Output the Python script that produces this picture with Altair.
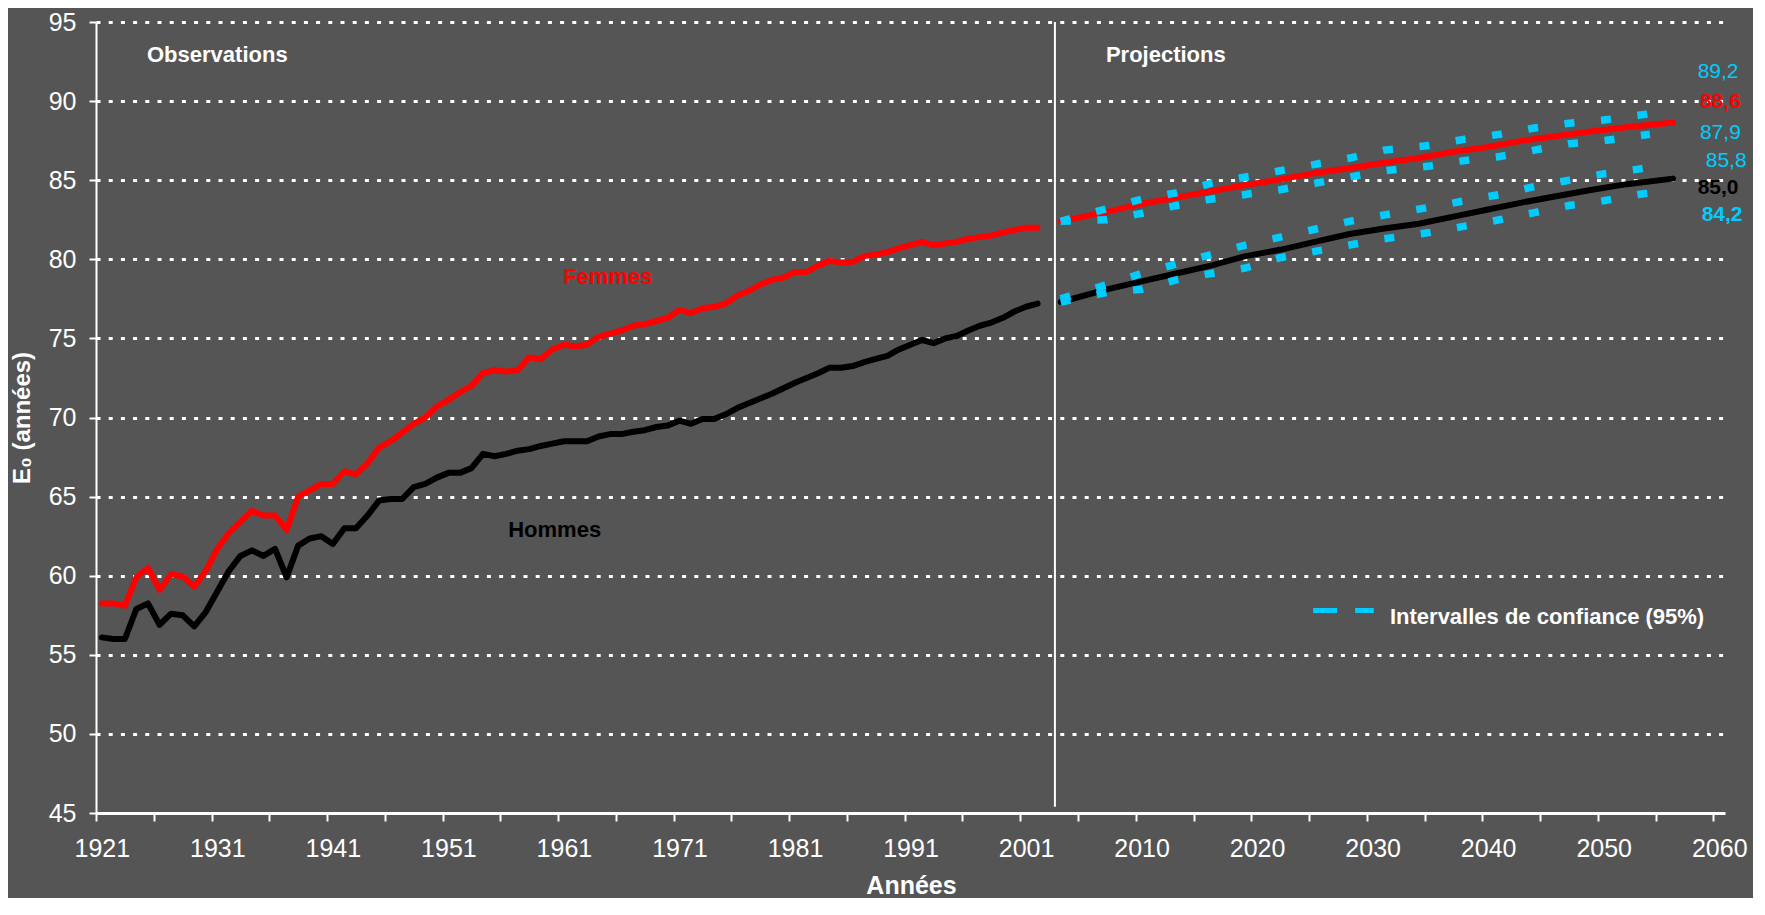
import altair as alt
import pandas as pd

# ---------------- data ----------------
premiere_annee_obs = 1921
femmes_obs = [58.25, 58.25, 58.1, 59.9, 60.5, 59.1, 60.1, 59.95, 59.3, 60.3,
              61.7, 62.7, 63.4, 64.1, 63.8, 63.8, 62.9, 65.0, 65.4, 65.8,
              65.8, 66.6, 66.4, 67.1, 68.1, 68.5, 69.05, 69.6, 70.0, 70.7,
              71.1, 71.6, 72.0, 72.8, 73.0, 72.9, 73.0, 73.8, 73.7, 74.3,
              74.6, 74.5, 74.6, 75.1, 75.3, 75.5, 75.8, 75.9, 76.1, 76.3,
              76.8, 76.6, 76.9, 77.0, 77.2, 77.7, 78.0, 78.4, 78.7, 78.85,
              79.2, 79.2, 79.6, 79.9, 79.8, 79.85, 80.2, 80.3, 80.45, 80.7,
              80.9, 81.1, 80.9, 81.0, 81.1, 81.3, 81.4, 81.5, 81.7, 81.85,
              82.0, 82.0]
hommes_obs = [56.1, 56.0, 56.0, 57.9, 58.25, 56.9, 57.6, 57.5, 56.8, 57.7,
              59.0, 60.3, 61.25, 61.6, 61.25, 61.7, 59.9, 61.9, 62.35, 62.5,
              62.0, 63.0, 63.0, 63.8, 64.75, 64.85, 64.85, 65.6, 65.8, 66.2,
              66.5, 66.5, 66.8, 67.7, 67.55, 67.7, 67.9, 68.0, 68.2, 68.35,
              68.5, 68.5, 68.5, 68.8, 68.95, 68.95, 69.1, 69.2, 69.4, 69.5,
              69.8, 69.6, 69.9, 69.9, 70.2, 70.6, 70.9, 71.2, 71.5, 71.85,
              72.2, 72.5, 72.8, 73.15, 73.15, 73.25, 73.5, 73.7, 73.9, 74.3,
              74.6, 74.9, 74.7, 75.0, 75.15, 75.5, 75.8, 76.0, 76.3, 76.7,
              77.0, 77.2]

annees_proj = [2003, 2007, 2010, 2013, 2016, 2019, 2022, 2025, 2028, 2031,
               2034, 2037, 2040, 2043, 2046, 2049, 2052, 2056]
femmes_proj = [82.4, 83.0, 83.5, 83.9, 84.3, 84.7, 85.05, 85.45, 85.75, 86.1,
               86.4, 86.8, 87.1, 87.5, 87.8, 88.1, 88.35, 88.65]
hommes_proj = [77.3, 78.1, 78.6, 79.1, 79.6, 80.2, 80.6, 81.1, 81.6, 81.95,
               82.25, 82.7, 83.15, 83.6, 84.0, 84.4, 84.75, 85.1]

annees_ic = [2003, 2007, 2010, 2013, 2016, 2019, 2022, 2025, 2028, 2031,
             2035, 2038, 2041, 2044, 2047, 2050, 2053, 2054]
femmes_ic_haut = [82.4, 83.2, 83.8, 84.2, 84.8, 85.2, 85.6, 86.0, 86.4, 86.9,
                  87.2, 87.6, 87.9, 88.3, 88.6, 88.8, 89.1, 89.2]
femmes_ic_bas = [82.4, 82.5, 82.9, 83.4, 83.8, 84.1, 84.4, 84.8, 85.2, 85.6,
                 85.9, 86.25, 86.5, 86.9, 87.3, 87.5, 87.8, 87.9]
hommes_ic_haut = [77.5, 78.4, 79.1, 79.7, 80.3, 80.9, 81.4, 81.9, 82.4, 82.8,
                  83.3, 83.7, 84.1, 84.6, 85.0, 85.4, 85.7, 85.8]
hommes_ic_bas = [77.3, 77.9, 78.1, 78.7, 79.1, 79.45, 80.1, 80.5, 80.9, 81.3,
                 81.7, 82.1, 82.5, 82.95, 83.4, 83.7, 84.1, 84.2]

x_labels = ["1921", "1931", "1941", "1951", "1961", "1971", "1981", "1991", "2001",
            "2010", "2020", "2030", "2040", "2050", "2060"]
y_ticks = [45, 50, 55, 60, 65, 70, 75, 80, 85, 90, 95]

etiquettes_fin = ["89,2", "88,6", "87,9", "85,8", "85,0", "84,2"]

# ---------------- tables ----------------
# Excel category axis: one empty slot between observations (to 2002) and projections (from 2003)
def slot(annee, periode):
    return annee if periode == "obs" else annee + 1

rows = []
for i, v in enumerate(femmes_obs):
    a = premiere_annee_obs + i
    rows.append(dict(pos=slot(a, "obs"), valeur=v, serie="F_obs"))
for i, v in enumerate(hommes_obs):
    a = premiere_annee_obs + i
    rows.append(dict(pos=slot(a, "obs"), valeur=v, serie="H_obs"))
for a, v in zip(annees_proj, femmes_proj):
    rows.append(dict(pos=slot(a, "proj"), valeur=v, serie="F_proj"))
for a, v in zip(annees_proj, hommes_proj):
    rows.append(dict(pos=slot(a, "proj"), valeur=v, serie="H_proj"))
df_lignes = pd.DataFrame(rows)

rows = []
for nom, vals in [("F_haut", femmes_ic_haut), ("F_bas", femmes_ic_bas),
                  ("H_haut", hommes_ic_haut), ("H_bas", hommes_ic_bas)]:
    for a, v in zip(annees_ic, vals):
        rows.append(dict(pos=slot(a, "proj"), valeur=v, serie=nom))
df_ic = pd.DataFrame(rows)

# ---------------- scales / axes ----------------
xs = alt.Scale(domain=[1920.5, 2061.5], nice=False, zero=False)
ys = alt.Scale(domain=[45, 95], nice=False, zero=False)

bornes = [1920.5 + 5 * k for k in range(29)]
expr = ""
for lab in x_labels:
    y = int(lab)
    b = slot(y, "obs" if y <= 2002 else "proj") - 0.5
    expr += f"datum.value == {b} ? '{lab}' : "
expr += "''"

FONT = "Liberation Sans, Arial, DejaVu Sans"

x_axis = alt.Axis(values=bornes, labelExpr=expr, labelOffset=5.8, labelFlush=False,
                  labelOverlap=False, labelBound=False, grid=False,
                  domainColor="white", domainWidth=3, tickColor="white", tickWidth=2,
                  tickSize=8, labelColor="white", labelFont=FONT, labelFontSize=25,
                  labelPadding=15,
                  title="Années", titleColor="white", titleFont=FONT, titleFontSize=25,
                  titleFontWeight="bold", titleX=815, titleY=80, titleAnchor="start",
                  titleAlign="center", titleBaseline="alphabetic")
y_axis = alt.Axis(values=y_ticks, grid=True, gridColor="white", gridDash=[4, 8.2],
                  gridWidth=3, domainColor="white", domainWidth=2, tickColor="white",
                  tickWidth=2, tickSize=7, labelColor="white", labelFont=FONT,
                  labelFontSize=25, labelPadding=13, labelFlush=False,
                  title="E₀ (années)", titleColor="white", titleFont=FONT,
                  titleFontSize=24, titleFontWeight="bold", titleAngle=270,
                  titleX=-74, titleY=395.5, titleAlign="center", titleBaseline="middle")

X = alt.X("pos:Q", scale=xs, axis=x_axis)
Y = alt.Y("valeur:Q", scale=ys, axis=y_axis)

def ligne(df, series, couleur, largeur, dash=None):
    kw = dict(color=couleur, strokeWidth=largeur, strokeJoin="round")
    if dash:
        kw["strokeDash"] = dash
        kw["strokeCap"] = "butt"
    else:
        kw["strokeCap"] = "round"
    return alt.Chart(df).transform_filter(
        alt.FieldOneOfPredicate(field="serie", oneOf=series)
    ).mark_line(**kw).encode(x=X, y=Y, detail="serie:N")

l_f = ligne(df_lignes, ["F_obs", "F_proj"], "#FF0000", 6)
l_h = ligne(df_lignes, ["H_obs", "H_proj"], "#000000", 6)
l_ic = ligne(df_ic, ["F_haut", "F_bas", "H_haut", "H_bas"], "#00CCFF", 7.5, dash=[10, 26.7])

# separator between observations and projections
sep = alt.Chart(pd.DataFrame({"pos": [2003.5], "valeur": [95], "v2": [45.4]})).mark_rule(
    color="white", strokeWidth=2).encode(x=X, y=Y, y2="v2:Q")

def texte(df, **kw):
    return alt.Chart(df).mark_text(font=FONT, **kw).encode(
        x=X, y=Y, text="texte:N")

t_periodes = texte(pd.DataFrame({"pos": [1931.0, 2013.1], "valeur": [92.9, 92.9],
                                 "texte": ["Observations", "Projections"]}),
                   color="white", fontSize=22, fontWeight="bold", align="center", baseline="middle")
t_femmes = texte(pd.DataFrame({"pos": [1964.8], "valeur": [78.9], "texte": ["Femmes"]}),
                 color="#FF0000", fontSize=22, fontWeight="bold", align="center", baseline="middle")
t_hommes = texte(pd.DataFrame({"pos": [1960.2], "valeur": [62.9], "texte": ["Hommes"]}),
                 color="#000000", fontSize=22, fontWeight="bold", align="center", baseline="middle")

leg_line = alt.Chart(pd.DataFrame({"pos": [2025.85], "p2": [2031.1], "valeur": [57.8]})).mark_rule(
    color="#00CCFF", strokeWidth=5, strokeDash=[24, 18]).encode(x=X, x2="p2:Q", y=Y)
leg_txt = texte(pd.DataFrame({"pos": [2032.5], "valeur": [57.42],
                              "texte": ["Intervalles de confiance (95%)"]}),
                color="white", fontSize=22, fontWeight="bold", align="left", baseline="middle")

df_fin = pd.DataFrame({
    "texte": etiquettes_fin,
    "pos": [2060.9, 2061.1, 2061.1, 2061.6, 2060.9, 2061.25],
    "valeur": [91.85, 89.96, 88.0, 86.24, 84.53, 82.83],
    "couleur": ["#00CCFF", "#FF0000", "#00CCFF", "#00CCFF", "#000000", "#00CCFF"],
    "gras": [False, True, False, False, True, True],
})
fin_norm = alt.Chart(df_fin).transform_filter("!datum.gras").mark_text(
    font=FONT, fontSize=21, align="center", baseline="middle").encode(
    x=X, y=Y, text="texte:N", color=alt.Color("couleur:N", scale=None))
fin_gras = alt.Chart(df_fin).transform_filter("datum.gras").mark_text(
    font=FONT, fontSize=21, fontWeight="bold", align="center", baseline="middle").encode(
    x=X, y=Y, text="texte:N", color=alt.Color("couleur:N", scale=None))

chart = alt.layer(
    l_f, l_h, l_ic, sep, t_periodes, t_femmes, t_hommes, leg_line, leg_txt, fin_norm, fin_gras
).properties(
    width=1629, height=791,
    autosize=alt.AutoSizeParams(type="none"),
    padding={"left": 88, "top": 14, "right": 28, "bottom": 85},
    background="#555555",
).configure_view(stroke=None)

chart.save("out.html", embed_options={"renderer": "svg", "actions": False})
